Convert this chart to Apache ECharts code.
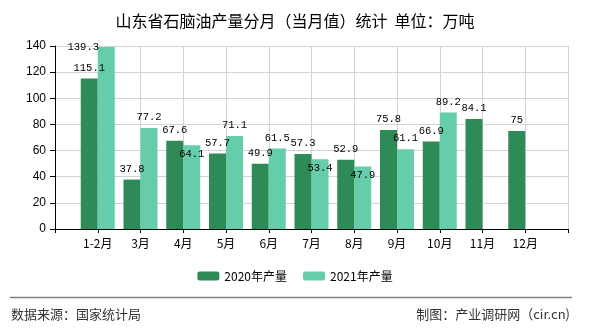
<!DOCTYPE html>
<html><head><meta charset="utf-8">
<script src="https://cdn.jsdelivr.net/npm/echarts@6/dist/echarts.min.js"></script>
<style>html,body{margin:0;padding:0;background:#fff}#c{width:590px;height:330px}</style>
</head><body><div id="c"></div>
<script>
const categories = ['', '1-2月', '3月', '4月', '5月', '6月', '7月', '8月', '9月', '10月', '11月', '12月', ''];
const values2020 = [null, 115.1, 37.8, 67.6, 57.7, 49.9, 57.3, 52.9, 75.8, 66.9, 84.1, 75, null];
const values2021 = [null, 139.3, 77.2, 64.1, 71.1, 61.5, 53.4, 47.9, 61.1, 89.2, null, null, null];
const seriesNames = ['2020年产量', '2021年产量'];
const yTicks = { min: 0, max: 140, interval: 20 };

// label adjustments for crowded values (index -> offset)
const labelShift2021 = { 1: [-23, 11], 3: [0, 20], 6: [0, 20], 7: [0, 19] };

function build(vals, shifts) {
  return vals.map((v, i) => {
    if (shifts && shifts[i]) return { value: v, label: { offset: shifts[i] } };
    return v;
  });
}
const labelStyle = { show: true, position: 'top', distance: 5, color: '#000', fontSize: 10.5, fontFamily: 'Liberation Mono, monospace' };

const chart = echarts.init(document.getElementById('c'), null, { renderer: 'canvas' });
chart.setOption({
  animation: false,
  backgroundColor: '#fff',
  title: {
    text: '山东省石脑油产量分月（当月值）统计  单位：万吨',
    left: 'center', top: 8,
    textStyle: { fontSize: 16, fontWeight: 'normal', color: '#000', fontFamily: 'Noto Sans CJK SC' }
  },
  legend: {
    bottom: 43, left: 'center',
    itemWidth: 22, itemHeight: 9, itemGap: 16,
    textStyle: { fontSize: 12, color: '#000', fontFamily: 'Noto Sans CJK SC' },
    data: seriesNames
  },
  grid: { left: 55, right: 22, top: 46, bottom: 101 },
  xAxis: {
    type: 'category', data: categories, boundaryGap: false,
    axisLine: { lineStyle: { color: '#000' } },
    axisTick: { show: true, length: 4, lineStyle: { color: '#000' } },
    axisLabel: { color: '#000', fontSize: 12, margin: 8, fontFamily: 'Noto Sans CJK SC' },
    splitLine: { show: true, lineStyle: { color: '#d3d3d3' } }
  },
  yAxis: {
    type: 'value', min: yTicks.min, max: yTicks.max, interval: yTicks.interval,
    axisLine: { show: true, lineStyle: { color: '#000' } },
    axisTick: { show: true, length: 5, lineStyle: { color: '#000' } },
    axisLabel: { color: '#000', fontSize: 12, margin: 9, fontFamily: 'Liberation Sans' },
    splitLine: { show: true, lineStyle: { color: '#d3d3d3' } }
  },
  series: [
    { name: seriesNames[0], type: 'bar', barWidth: 17, barGap: '0%', itemStyle: { color: '#2e8b57' },
      label: labelStyle, data: build(values2020, null) },
    { name: seriesNames[1], type: 'bar', barWidth: 17, barGap: '0%', itemStyle: { color: '#66cdaa' },
      label: labelStyle, data: build(values2021, labelShift2021) }
  ],
  graphic: [
    { type: 'line', shape: { x1: 10, y1: 297.5, x2: 572, y2: 297.5 }, style: { stroke: '#808080', lineWidth: 1.5 } },
    { type: 'text', left: 11, top: 308, style: { text: '数据来源：国家统计局', fontSize: 13, fill: '#333', fontFamily: 'Noto Sans CJK SC' } },
    { type: 'text', right: 20, top: 308, style: { text: '制图：产业调研网（cir.cn)', fontSize: 13, fill: '#333', fontFamily: 'Noto Sans CJK SC' } }
  ]
});
</script></body></html>
